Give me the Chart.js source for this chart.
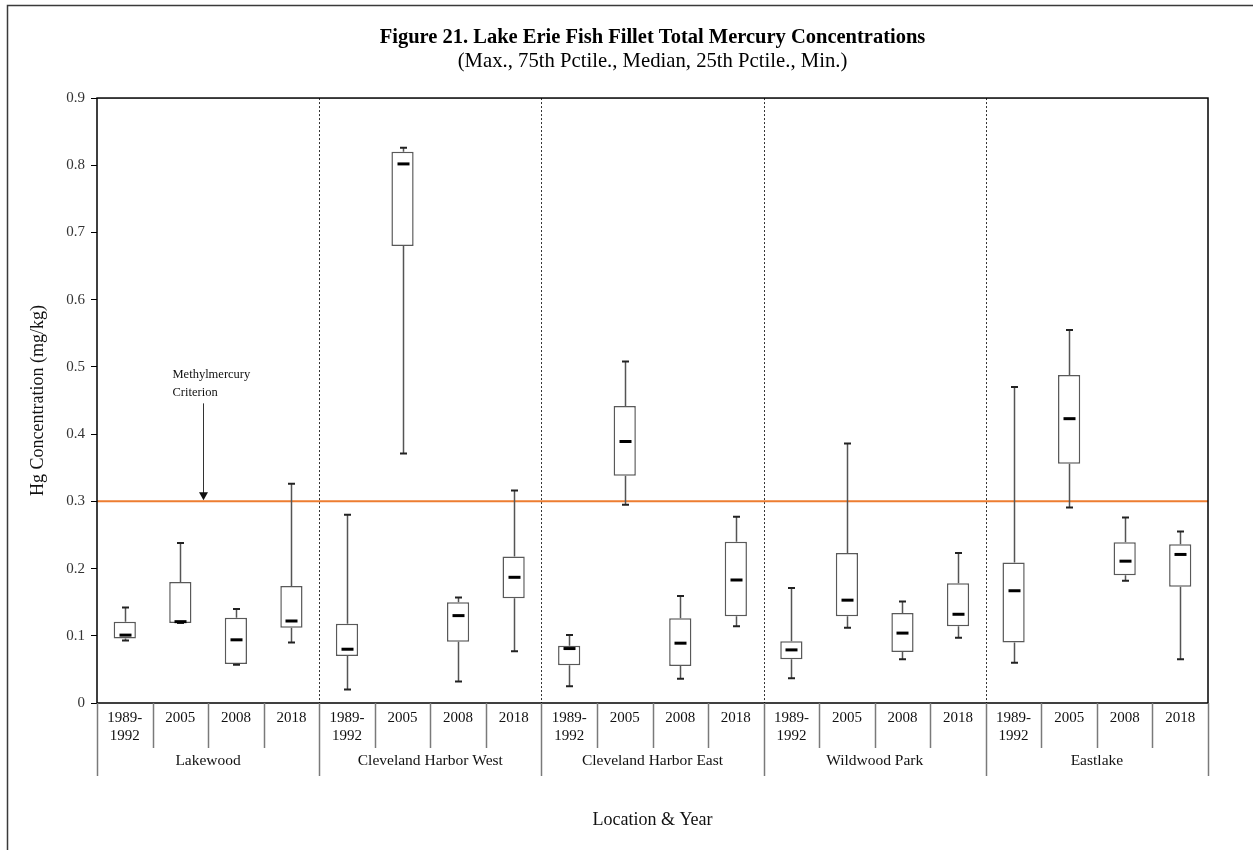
<!DOCTYPE html>
<html>
<head>
<meta charset="utf-8">
<script src="https://cdn.jsdelivr.net/npm/chart.js@4.4.1/dist/chart.umd.min.js"></script>
<style>
  html, body { margin: 0; padding: 0; background: #fff; }
  #wrap { width: 1253px; height: 850px; position: relative; }
</style>
</head>
<body>
<div id="wrap"><canvas id="c" width="1253" height="850"></canvas></div>
<script>
// Sampling years and locations
const years = [['1989-', '1992'], '2005', '2008', '2018'];
const locations = ['Lakewood', 'Cleveland Harbor West', 'Cleveland Harbor East', 'Wildwood Park', 'Eastlake'];

// Five-number summaries (mg/kg), four years per location in order
const maxVals    = [0.142, 0.238, 0.140, 0.326,  0.280, 0.826, 0.157, 0.316,  0.101, 0.508, 0.159, 0.277,  0.171, 0.386, 0.151, 0.223,  0.470, 0.555, 0.276, 0.255];
const q3Vals     = [0.121, 0.180, 0.127, 0.174,  0.118, 0.820, 0.150, 0.218,  0.085, 0.442, 0.126, 0.240,  0.092, 0.223, 0.134, 0.178,  0.209, 0.488, 0.239, 0.236];
const medianVals = [0.101, 0.121, 0.094, 0.122,  0.080, 0.802, 0.130, 0.187,  0.081, 0.389, 0.089, 0.183,  0.079, 0.153, 0.104, 0.132,  0.167, 0.423, 0.211, 0.221];
const q1Vals     = [0.096, 0.119, 0.058, 0.112,  0.070, 0.680, 0.091, 0.156,  0.056, 0.338, 0.055, 0.129,  0.065, 0.129, 0.076, 0.114,  0.090, 0.356, 0.190, 0.173];
const minVals    = [0.093, 0.119, 0.057, 0.090,  0.020, 0.371, 0.032, 0.077,  0.025, 0.295, 0.036, 0.114,  0.037, 0.112, 0.065, 0.097,  0.060, 0.291, 0.182, 0.065];

// Methylmercury fish tissue criterion (mg/kg)
const criterion = 0.3;
const yTicks = [0, 0.1, 0.2, 0.3, 0.4, 0.5, 0.6, 0.7, 0.8, 0.9];

const categoryLabels = [];
locations.forEach(() => years.forEach(y => categoryLabels.push(y)));

const SERIF = "'Liberation Serif', 'Times New Roman', serif";

// Whiskers, caps, medians, frame, separators and the criterion annotation
const boxExtras = {
  id: 'boxExtras',
  beforeDraw(chart) {
    const ctx = chart.ctx;
    ctx.save();
    ctx.fillStyle = '#fff';
    ctx.fillRect(0, 0, chart.width, chart.height);
    ctx.strokeStyle = '#3a3a3a';
    ctx.lineWidth = 1.5;
    ctx.strokeRect(7.5, 5.5, chart.width + 20, chart.height + 20);
    ctx.restore();
  },
  beforeDatasetsDraw(chart) {
    const { ctx, chartArea: a, scales: { x, y } } = chart;
    const step = x.getPixelForValue(1) - x.getPixelForValue(0);
    ctx.save();
    // dotted location dividers
    ctx.strokeStyle = '#333';
    ctx.lineWidth = 1;
    ctx.setLineDash([2, 2]);
    for (let k = 4; k < categoryLabels.length; k += 4) {
      const px = Math.round(x.getPixelForValue(k) - step / 2) + 0.5;
      ctx.beginPath(); ctx.moveTo(px, a.top); ctx.lineTo(px, a.bottom); ctx.stroke();
    }
    ctx.setLineDash([]);
    // criterion line
    const cy = y.getPixelForValue(criterion);
    ctx.strokeStyle = '#ED7D31';
    ctx.lineWidth = 2;
    ctx.beginPath(); ctx.moveTo(a.left, cy); ctx.lineTo(a.right, cy); ctx.stroke();
    // whiskers
    const meta = chart.getDatasetMeta(0);
    ctx.strokeStyle = '#555';
    ctx.lineWidth = 1.5;
    meta.data.forEach((bar, i) => {
      const cx = Math.round(bar.x) + 0.5;
      ctx.beginPath();
      ctx.moveTo(cx, y.getPixelForValue(maxVals[i]));
      ctx.lineTo(cx, y.getPixelForValue(q3Vals[i]));
      ctx.moveTo(cx, y.getPixelForValue(q1Vals[i]));
      ctx.lineTo(cx, y.getPixelForValue(minVals[i]));
      ctx.stroke();
    });
    ctx.restore();
  },
  afterDatasetsDraw(chart) {
    const { ctx, chartArea: a, scales: { x, y } } = chart;
    const meta = chart.getDatasetMeta(0);
    ctx.save();
    meta.data.forEach((bar, i) => {
      const cx = Math.round(bar.x) + 0.5;
      // caps
      ctx.strokeStyle = '#222';
      ctx.lineWidth = 2;
      ctx.beginPath();
      const yMax = y.getPixelForValue(maxVals[i]);
      const yMin = y.getPixelForValue(minVals[i]);
      ctx.moveTo(cx - 3.5, yMax); ctx.lineTo(cx + 3.5, yMax);
      ctx.moveTo(cx - 3.5, yMin); ctx.lineTo(cx + 3.5, yMin);
      ctx.stroke();
      // median
      ctx.strokeStyle = '#000';
      ctx.lineWidth = 3;
      const ym = y.getPixelForValue(medianVals[i]);
      ctx.beginPath(); ctx.moveTo(cx - 6, ym); ctx.lineTo(cx + 6, ym); ctx.stroke();
    });
    // plot frame
    ctx.strokeStyle = '#000';
    ctx.lineWidth = 1.5;
    ctx.strokeRect(a.left, a.top, a.right - a.left, a.bottom - a.top);
    ctx.restore();
  },
  afterDraw(chart) {
    const { ctx, chartArea: a, scales: { x, y } } = chart;
    const step = x.getPixelForValue(1) - x.getPixelForValue(0);
    const n = categoryLabels.length;
    const x2 = chart.scales.x2;
    ctx.save();
    // category separators below the axis
    ctx.strokeStyle = '#7a7a7a';
    ctx.lineWidth = 1.5;
    for (let k = 0; k <= n; k++) {
      const px = Math.round(x.getPixelForValue(Math.min(k, n - 1)) + (k === n ? step / 2 : -step / 2)) + 0.5;
      const bottom = (k % 4 === 0) ? x2.top + 28 : x.bottom;
      ctx.beginPath(); ctx.moveTo(px, a.bottom); ctx.lineTo(px, bottom); ctx.stroke();
    }
    // criterion annotation
    const ax = Math.round(x.getPixelForValue(1) + 0.41 * step) + 0.5;
    const cy = y.getPixelForValue(criterion);
    ctx.fillStyle = '#111';
    ctx.font = '12.5px ' + SERIF;
    ctx.textAlign = 'left';
    ctx.textBaseline = 'middle';
    ctx.fillText('Methylmercury', ax - 31, cy - 127);
    ctx.fillText('Criterion', ax - 31, cy - 109);
    ctx.strokeStyle = '#333';
    ctx.lineWidth = 1;
    ctx.beginPath(); ctx.moveTo(ax, cy - 98); ctx.lineTo(ax, cy - 8); ctx.stroke();
    ctx.beginPath();
    ctx.moveTo(ax - 4.5, cy - 9); ctx.lineTo(ax + 4.5, cy - 9); ctx.lineTo(ax, cy - 1);
    ctx.closePath(); ctx.fillStyle = '#111'; ctx.fill();
    ctx.restore();
  }
};

new Chart(document.getElementById('c'), {
  type: 'bar',
  data: {
    labels: categoryLabels,
    datasets: [{
      label: 'Interquartile range',
      data: q1Vals.map((v, i) => [v, q3Vals[i]]),
      backgroundColor: '#fff',
      borderColor: '#595959',
      borderWidth: 1.5,
      borderSkipped: false,
      barPercentage: 0.4,
      categoryPercentage: 1.0,
      xAxisID: 'x'
    }]
  },
  options: {
    responsive: false,
    animation: false,
    layout: { padding: { left: 10, right: 45, top: 0, bottom: 12 } },
    plugins: {
      legend: { display: false },
      tooltip: { enabled: false },
      title: {
        display: true,
        fullSize: false,
        text: 'Figure 21. Lake Erie Fish Fillet Total Mercury Concentrations',
        color: '#000',
        font: { family: SERIF, size: 20.5, weight: 'bold', lineHeight: 1.2 },
        padding: { top: 25, bottom: 0 }
      },
      subtitle: {
        display: true,
        fullSize: false,
        text: '(Max., 75th Pctile., Median, 25th Pctile., Min.)',
        color: '#000',
        font: { family: SERIF, size: 20.7, lineHeight: 1.2 },
        padding: { top: 0, bottom: 23.6 }
      }
    },
    scales: {
      x: {
        type: 'category',
        position: 'bottom',
        offset: true,
        grid: { display: false, drawTicks: false },
        border: { display: false },
        ticks: {
          color: '#111',
          font: { family: SERIF, size: 15, lineHeight: 1.2 },
          padding: 6,
          maxRotation: 0,
          autoSkip: false
        },
        afterFit(scale) { scale.height = 45; }
      },
      x2: {
        type: 'category',
        position: 'bottom',
        labels: locations,
        offset: true,
        grid: { display: false, drawTicks: false },
        border: { display: false },
        ticks: {
          color: '#111',
          font: { family: SERIF, size: 15.5, lineHeight: 1.2 },
          padding: 4,
          maxRotation: 0,
          autoSkip: false
        },
        title: {
          display: true,
          text: 'Location & Year',
          color: '#111',
          font: { family: SERIF, size: 18, lineHeight: 1.2 },
          padding: { top: 0, bottom: 7 }
        },
        afterFit(scale) { scale.height = 90; }
      },
      y: {
        min: 0,
        max: 0.9,
        afterBuildTicks(scale) { scale.ticks = yTicks.map(v => ({ value: v })); },
        grid: { display: true, drawOnChartArea: false, drawTicks: true, tickLength: 6, color: '#000', lineWidth: 1 },
        border: { display: false },
        ticks: {
          color: '#333',
          font: { family: SERIF, size: 15 },
          padding: 6,
          callback: v => (v === 0 ? '0' : v.toFixed(1))
        },
        title: {
          display: true,
          text: 'Hg Concentration (mg/kg)',
          color: '#111',
          font: { family: SERIF, size: 18, lineHeight: 1.2 },
          padding: { top: 17, bottom: 0 }
        },
        afterFit(scale) { scale.width = 87; }
      }
    }
  },
  plugins: [boxExtras]
});
</script>
</body>
</html>
